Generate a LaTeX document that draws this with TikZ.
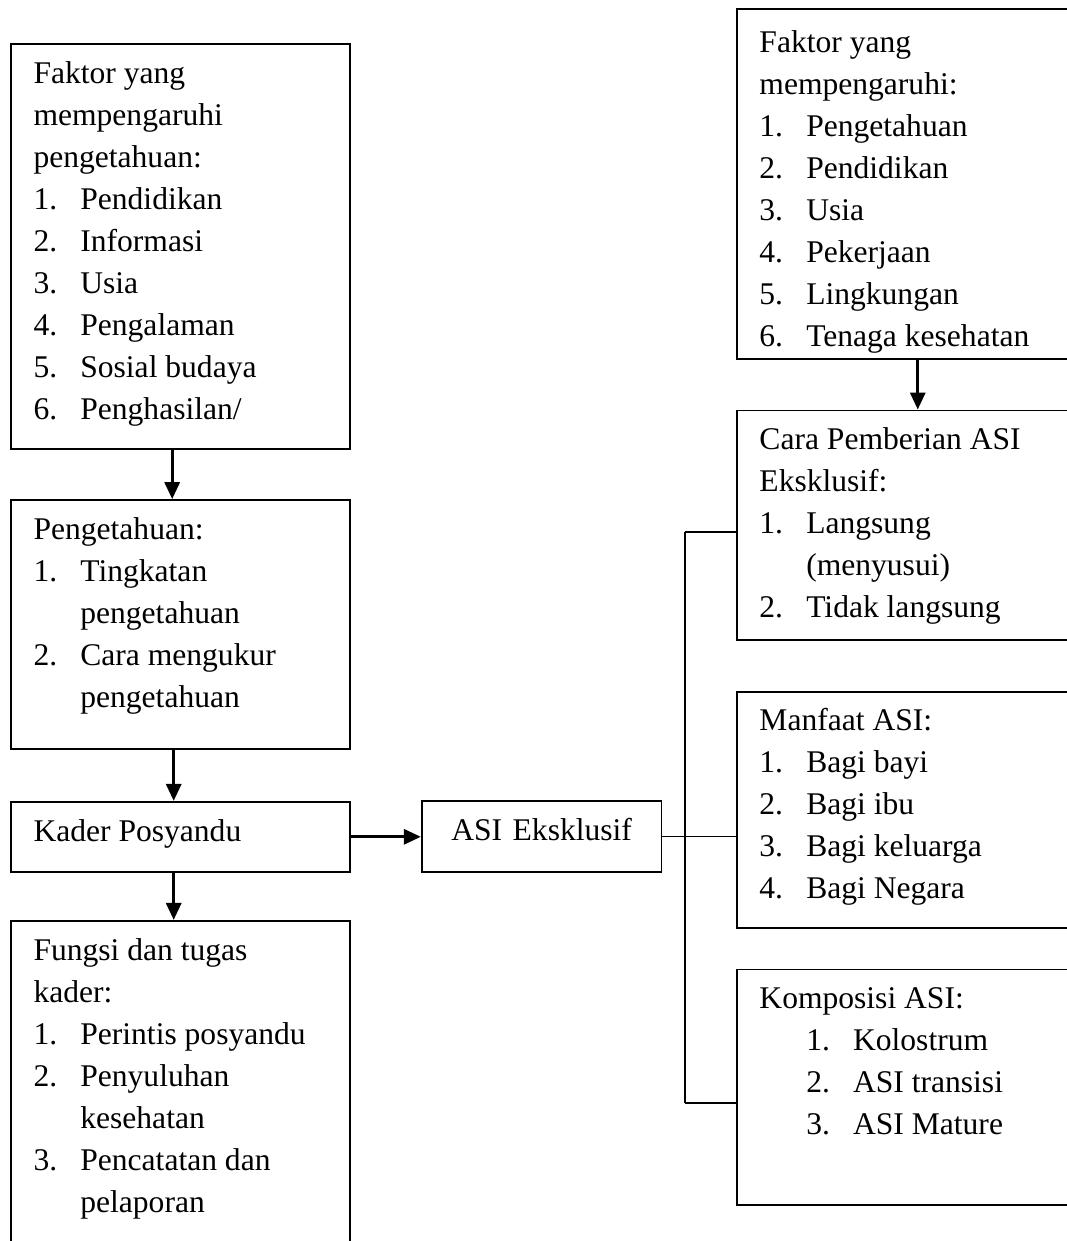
\documentclass[tikz,border=0pt]{standalone}
\usepackage{fontspec}
\setmainfont{Liberation Serif}
\usepackage{tikz}
\usetikzlibrary{arrows.meta, positioning}
\newcommand{\kitem}[2]{\makebox[15.5pt][l]{#1}#2}
\newcommand{\kcont}[1]{\hspace*{15.5pt}#1}

\begin{document}
\begin{tikzpicture}[>={Triangle[width=5pt,length=5.6pt]}, semithick]
\tikzstyle{panel}=[rectangle, draw=black, semithick, align=flush left,
                   inner xsep=7.5pt, inner ysep=4.5pt, text height=8.5pt,
                   font=\fontsize{10.45}{13.9}\selectfont]
\tikzstyle{leftcol}=[panel, text width=97.2pt]
\tikzstyle{rightcol}=[panel, text width=104.8pt]
\tikzstyle{branch}=[line width=0.45pt]
\tikzstyle{link}=[->, line width=0.9pt]
  \useasboundingbox (0,0) rectangle (353.2pt,-410.8pt);
  \clip (0,0) rectangle (353.2pt,-410.8pt);
  % left column
  \node[leftcol, text depth=116.6pt, anchor=north west] (Faktor) at (3.3pt,-14.2pt)
    {Faktor yang\\ mempengaruhi\\ pengetahuan:\\ \kitem{1.}{Pendidikan}\\
     \kitem{2.}{Informasi}\\ \kitem{3.}{Usia}\\ \kitem{4.}{Pengalaman}\\
     \kitem{5.}{Sosial budaya}\\ \kitem{6.}{Penghasilan/}};
  \node[leftcol, text depth=64.9pt] (Peng) [below=16.3pt of Faktor]
    {Pengetahuan:\\ \kitem{1.}{Tingkatan}\\ \kcont{pengetahuan}\\
     \kitem{2.}{Cara mengukur}\\ \kcont{pengetahuan}};
  \node[leftcol, text depth=5.7pt] (Kader) [below=16.9pt of Peng] {Kader Posyandu};
  \node[leftcol, text depth=120pt] (Fungsi) [below=15.6pt of Kader]
    {Fungsi dan tugas\\ kader:\\ \kitem{1.}{Perintis posyandu}\\
     \kitem{2.}{Penyuluhan}\\ \kcont{kesehatan}\\
     \kitem{3.}{Pencatatan dan}\\ \kcont{pelaporan}};
  \node[panel, text width=72pt, inner xsep=3.7pt, align=center, text depth=6pt]
    (ASI) [right=23.2pt of Kader] {ASI Eksklusif};
  % right column
  \node[rightcol, inner ysep=6pt, text depth=95.4pt, anchor=north west] (FaktorR) at (243.6pt,-2.65pt)
    {Faktor yang\\ mempengaruhi:\\ \kitem{1.}{Pengetahuan}\\ \kitem{2.}{Pendidikan}\\
     \kitem{3.}{Usia}\\ \kitem{4.}{Pekerjaan}\\ \kitem{5.}{Lingkungan}\\
     \kitem{6.}{Tenaga kesehatan}};
  \node[rightcol, text depth=58.6pt] (Cara) [below=16.4pt of FaktorR]
    {Cara Pemberian ASI\\ Eksklusif:\\ \kitem{1.}{Langsung}\\ \kcont{(menyusui)}\\
     \kitem{2.}{Tidak langsung}};
  \node[rightcol, text depth=60.6pt] (Manfaat) [below=16.4pt of Cara]
    {Manfaat ASI:\\ \kitem{1.}{Bagi bayi}\\ \kitem{2.}{Bagi ibu}\\
     \kitem{3.}{Bagi keluarga}\\ \kitem{4.}{Bagi Negara}};
  \node[rightcol, text depth=60.3pt] (Komposisi) [below=13.3pt of Manfaat]
    {Komposisi ASI:\\ \kcont{\kitem{1.}{Kolostrum}}\\ \kcont{\kitem{2.}{ASI transisi}}\\
     \kcont{\kitem{3.}{ASI Mature}}};
  \coordinate (busTop) at (226.7pt,-176.1pt);
  \coordinate (busBot) at (226.7pt,-365.1pt);
  \path[link] ([xshift=-2.7pt]Faktor.south) edge ([xshift=-2.7pt]Peng.north);
  \path[link] ([xshift=-2.2pt]Peng.south) edge ([xshift=-2.2pt]Kader.north);
  \path[link] ([xshift=-2.2pt]Kader.south) edge ([xshift=-2.2pt]Fungsi.north);
  \path[link] (Kader) edge (ASI);
  \path[link] (FaktorR) edge (Cara);
  \draw (busTop) -- (busBot);
  \draw[branch] (busTop) -- (busTop -| Cara.west);
  \draw[branch] (ASI.east) -- (ASI.east -| Manfaat.west);
  \draw[branch] (busBot) -- (busBot -| Komposisi.west);
\end{tikzpicture}
\end{document}
